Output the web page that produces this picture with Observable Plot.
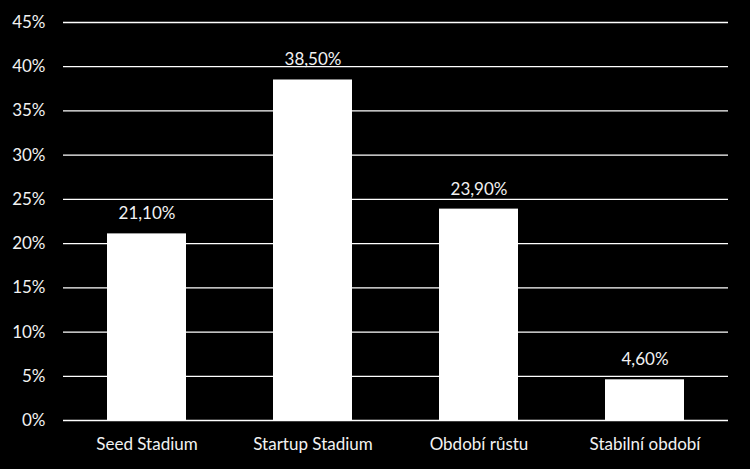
<!DOCTYPE html>
<html>
<head>
<meta charset="utf-8">
<script src="https://cdn.jsdelivr.net/npm/d3@7"></script>
<script src="https://cdn.jsdelivr.net/npm/@observablehq/plot@0.6"></script>
<style>
  html, body { margin: 0; padding: 0; background: #000; }
</style>
</head>
<body>
<div id="chart"></div>
<script>
const categories = ["Seed Stadium", "Startup Stadium", "Období růstu", "Stabilní období"];
const values = [21.1, 38.5, 23.9, 4.6];
const yTicks = [0, 5, 10, 15, 20, 25, 30, 35, 40, 45];

const data = categories.map((c, i) => ({category: c, value: values[i]}));
const fmt = v => v.toFixed(2).replace(".", ",") + "%";

const chart = Plot.plot({
  width: 750,
  height: 469,
  marginTop: 22,
  marginBottom: 49,
  marginLeft: 63,
  marginRight: 22,
  style: {background: "#000", color: "#f2f2f2", fontFamily: "Lato, sans-serif", fontSize: "17px"},
  x: {domain: categories, label: null, paddingInner: 0.525, paddingOuter: 0.2625, tickSize: 0, tickPadding: 17},
  y: {domain: [0, 45], ticks: yTicks, label: null, tickSize: 0, tickPadding: 18, tickFormat: d => d + "%"},
  marks: [
    Plot.ruleY(yTicks, {stroke: "#fff", strokeWidth: 1.3}),
    Plot.barY(data, {x: "category", y: "value", fill: "#fff"}),
    Plot.text(data, {x: "category", y: "value", text: d => fmt(d.value), dy: -20, fill: "#f2f2f2", fontSize: 17})
  ]
});
document.getElementById("chart").appendChild(chart);
</script>
</body>
</html>
